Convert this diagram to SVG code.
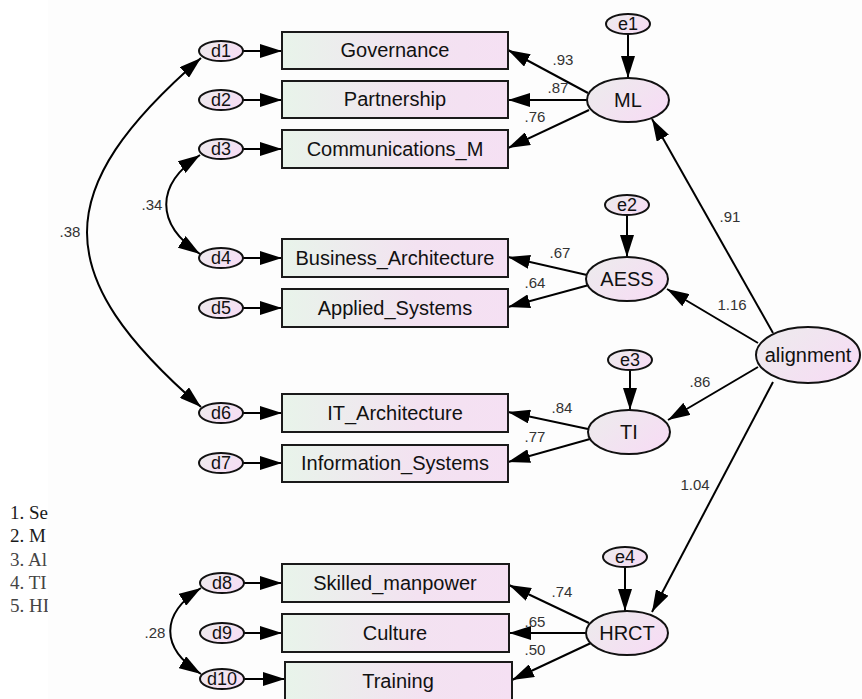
<svg xmlns="http://www.w3.org/2000/svg" width="862" height="699" viewBox="0 0 862 699">
<defs>
<linearGradient id="gBox" x1="0" y1="0" x2="1" y2="0">
<stop offset="0" stop-color="#e8f4ea"/><stop offset="0.6" stop-color="#f3e2f1"/><stop offset="1" stop-color="#f5e0f3"/>
</linearGradient>
<linearGradient id="gEl" x1="0" y1="0" x2="1" y2="0.6">
<stop offset="0" stop-color="#ececec"/><stop offset="1" stop-color="#f6ddf4"/>
</linearGradient>
<marker id="ah" viewBox="0 0 22 14" refX="22" refY="7" markerWidth="22" markerHeight="14" markerUnits="userSpaceOnUse" orient="auto-start-reverse">
<path d="M0,0 L22,7 L0,14 z" fill="#000"/>
</marker>
<style>
.box{fill:url(#gBox);stroke:#1a1a1a;stroke-width:2}
.el{fill:url(#gEl);stroke:#111;stroke-width:2}
.lbl{font-family:"Liberation Sans",Arial,sans-serif;font-size:20px;fill:#111;text-anchor:middle}
.lat{font-family:"Liberation Sans",Arial,sans-serif;font-size:20px;fill:#111;text-anchor:middle}
.sm{font-family:"Liberation Sans",Arial,sans-serif;font-size:18px;fill:#111;text-anchor:middle}
.num{font-family:"Liberation Sans",Arial,sans-serif;font-size:15px;fill:#333;text-anchor:middle}
.note{font-family:"Liberation Serif","Times New Roman",serif;font-size:19px}
.c{stroke:#000;stroke-width:2;fill:none;marker-end:url(#ah)}
.cv{stroke:#000;stroke-width:2;fill:none;marker-end:url(#ah);marker-start:url(#ah)}
</style>
</defs>
<rect width="862" height="699" fill="#fff"/>
<g id="notes">
<text class="note" x="10" y="519" fill="#1a1a1a">1. Se</text>
<text class="note" x="10" y="542" fill="#1a1a1a">2. M</text>
<text class="note" x="10" y="566" fill="#444">3. Al</text>
<text class="note" x="10" y="589" fill="#444">4. TI</text>
<text class="note" x="10" y="612" fill="#444">5. HI</text>
</g>
<rect x="48" y="0" width="814" height="699" fill="#fdfdfd"/>

<g id="connectors">
<!-- d to boxes -->
<line class="c" x1="243" y1="51" x2="282" y2="51"/>
<line class="c" x1="243" y1="100" x2="282" y2="100"/>
<line class="c" x1="243" y1="149" x2="282" y2="149"/>
<line class="c" x1="243" y1="258" x2="282" y2="258"/>
<line class="c" x1="243" y1="308" x2="282" y2="308"/>
<line class="c" x1="243" y1="413" x2="282" y2="413"/>
<line class="c" x1="243" y1="463" x2="282" y2="463"/>
<line class="c" x1="244" y1="583" x2="282" y2="583"/>
<line class="c" x1="244" y1="633" x2="282" y2="633"/>
<line class="c" x1="244" y1="679" x2="285" y2="679"/>
<!-- covariances -->
<path class="cv" d="M201,407 C49,275 49,190 201,58"/>
<path class="cv" d="M200,254 C155,224 155,185 200,155"/>
<path class="cv" d="M201,674 C160,648 160,614 201,588"/>
<!-- errors to latents -->
<line class="c" x1="628" y1="34" x2="628" y2="78"/>
<line class="c" x1="627" y1="215" x2="627" y2="257"/>
<line class="c" x1="630" y1="370" x2="630" y2="410"/>
<line class="c" x1="625" y1="567" x2="625" y2="611"/>
<!-- latents to indicators -->
<line class="c" x1="588" y1="93" x2="508" y2="50"/>
<line class="c" x1="587" y1="100" x2="508" y2="100"/>
<line class="c" x1="589" y1="110" x2="508" y2="148"/>
<line class="c" x1="587" y1="275" x2="508" y2="257"/>
<line class="c" x1="589" y1="285" x2="508" y2="307"/>
<line class="c" x1="588" y1="429" x2="508" y2="412"/>
<line class="c" x1="590" y1="439" x2="508" y2="462"/>
<line class="c" x1="589" y1="623" x2="509" y2="585"/>
<line class="c" x1="586" y1="633" x2="509" y2="633"/>
<line class="c" x1="591" y1="643" x2="512" y2="680"/>
<!-- alignment to latents -->
<line class="c" x1="773" y1="333" x2="652" y2="119"/>
<line class="c" x1="758" y1="343" x2="667" y2="289"/>
<line class="c" x1="758" y1="367" x2="668" y2="420"/>
<line class="c" x1="773" y1="382" x2="652" y2="612"/>
<!-- coefficient labels -->
<text class="num" x="563" y="65">.93</text>
<text class="num" x="558" y="93">.87</text>
<text class="num" x="535" y="122">.76</text>
<text class="num" x="560" y="258">.67</text>
<text class="num" x="535" y="288">.64</text>
<text class="num" x="562" y="413">.84</text>
<text class="num" x="535" y="442">.77</text>
<text class="num" x="562" y="597">.74</text>
<text class="num" x="535" y="627">.65</text>
<text class="num" x="535" y="655">.50</text>
<text class="num" x="730" y="222">.91</text>
<text class="num" x="732" y="310">1.16</text>
<text class="num" x="700" y="387">.86</text>
<text class="num" x="695" y="490">1.04</text>
<text class="num" x="70" y="237">.38</text>
<text class="num" x="152" y="210">.34</text>
<text class="num" x="155" y="638">.28</text>
</g>

<g id="d1"><ellipse class="el" cx="221" cy="51" rx="22" ry="10"/><text class="sm" x="221" y="57">d1</text></g>
<g id="d2"><ellipse class="el" cx="221" cy="100" rx="22" ry="10"/><text class="sm" x="221" y="106">d2</text></g>
<g id="d3"><ellipse class="el" cx="221" cy="149" rx="22" ry="10"/><text class="sm" x="221" y="155">d3</text></g>
<g id="d4"><ellipse class="el" cx="221" cy="258" rx="22" ry="10"/><text class="sm" x="221" y="264">d4</text></g>
<g id="d5"><ellipse class="el" cx="221" cy="308" rx="22" ry="10"/><text class="sm" x="221" y="314">d5</text></g>
<g id="d6"><ellipse class="el" cx="221" cy="413" rx="22" ry="10"/><text class="sm" x="221" y="419">d6</text></g>
<g id="d7"><ellipse class="el" cx="221" cy="463" rx="22" ry="10"/><text class="sm" x="221" y="469">d7</text></g>
<g id="d8"><ellipse class="el" cx="222" cy="583" rx="22" ry="10"/><text class="sm" x="222" y="589">d8</text></g>
<g id="d9"><ellipse class="el" cx="222" cy="633" rx="22" ry="10"/><text class="sm" x="222" y="639">d9</text></g>
<g id="d10"><ellipse class="el" cx="222" cy="679" rx="22" ry="10"/><text class="sm" x="222" y="685">d10</text></g>

<g id="Governance"><rect class="box" x="282" y="32" width="226" height="37"/><text class="lbl" x="395" y="57">Governance</text></g>
<g id="Partnership"><rect class="box" x="282" y="81" width="226" height="37"/><text class="lbl" x="395" y="106">Partnership</text></g>
<g id="Communications_M"><rect class="box" x="282" y="130" width="226" height="38"/><text class="lbl" x="395" y="156">Communications_M</text></g>
<g id="Business_Architecture"><rect class="box" x="282" y="239" width="226" height="38"/><text class="lbl" x="395" y="265">Business_Architecture</text></g>
<g id="Applied_Systems"><rect class="box" x="282" y="289" width="226" height="38"/><text class="lbl" x="395" y="315">Applied_Systems</text></g>
<g id="IT_Architecture"><rect class="box" x="282" y="394" width="226" height="38"/><text class="lbl" x="395" y="420">IT_Architecture</text></g>
<g id="Information_Systems"><rect class="box" x="282" y="445" width="226" height="37"/><text class="lbl" x="395" y="470">Information_Systems</text></g>
<g id="Skilled_manpower"><rect class="box" x="282" y="564" width="227" height="38"/><text class="lbl" x="395" y="590">Skilled_manpower</text></g>
<g id="Culture"><rect class="box" x="282" y="614" width="227" height="38"/><text class="lbl" x="395" y="640">Culture</text></g>
<g id="Training"><rect class="box" x="285" y="662" width="227" height="40"/><text class="lbl" x="398" y="688">Training</text></g>

<g id="e1"><ellipse class="el" cx="628" cy="24" rx="22" ry="10"/><text class="sm" x="628" y="30">e1</text></g>
<g id="e2"><ellipse class="el" cx="627" cy="205" rx="22" ry="10"/><text class="sm" x="627" y="211">e2</text></g>
<g id="e3"><ellipse class="el" cx="630" cy="360" rx="22" ry="10"/><text class="sm" x="630" y="366">e3</text></g>
<g id="e4"><ellipse class="el" cx="625" cy="557" rx="22" ry="10"/><text class="sm" x="625" y="563">e4</text></g>

<g id="ML"><ellipse class="el" cx="628" cy="100" rx="41" ry="22"/><text class="lat" x="628" y="107">ML</text></g>
<g id="AESS"><ellipse class="el" cx="627" cy="279" rx="41" ry="22"/><text class="lat" x="627" y="286">AESS</text></g>
<g id="TI"><ellipse class="el" cx="629" cy="432" rx="41" ry="22"/><text class="lat" x="629" y="439">TI</text></g>
<g id="HRCT"><ellipse class="el" cx="627" cy="633" rx="41" ry="22"/><text class="lat" x="627" y="640">HRCT</text></g>
<g id="alignment"><ellipse class="el" cx="808" cy="355" rx="52" ry="28"/><text class="lat" x="808" y="362">alignment</text></g>
</svg>
